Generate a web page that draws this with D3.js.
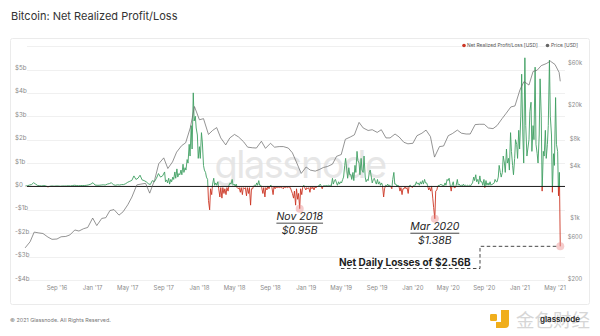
<!DOCTYPE html>
<html>
<head>
<meta charset="utf-8">
<script src="https://cdn.jsdelivr.net/npm/d3@7"></script>
<style>
  body { margin: 0; background: #fff; }
  svg { display: block; font-family: Inter, "Noto Sans", sans-serif; }
</style>
</head>
<body>
<svg id="chart" width="600" height="336"></svg>
<script>
// Net realized profit/loss, $ billions, Monday readings by year
const pnl2016 = [ // from 16 May 2016
  0.02, 0.03, 0.06,
  0.08, 0.16, 0.10, 0.04,
  0.03, 0.02, 0.04, 0.02,
  -0.02, 0.01, 0.02, 0.01, 0.02,
  0.02, 0.01, 0.02, 0.02,
  0.02, 0.03, 0.02, 0.04, 0.05,
  0.04, 0.03, 0.04, 0.04,
  0.04, 0.05, 0.07, 0.10
];
const pnl2017 = [ // from 2 Jan 2017
  0.16, 0.06, 0.05, 0.05, 0.06,
  0.07, 0.06, 0.10, 0.12,
  0.16, 0.07, 0.05, 0.07,
  0.06, 0.08, 0.08, 0.12,
  0.18, 0.22, 0.26, 0.45, 0.30,
  0.35, 0.48, 0.28, 0.25,
  0.20, 0.12, 0.08, 0.25, 0.20,
  0.35, 0.55, 0.40, 0.45,
  0.62, 0.28, 0.35, 0.30,
  0.40, 0.62, 0.75, 0.55, 0.70,
  0.95, 0.80, 1.15, 1.80,
  2.60, 4.00, 3.00, 2.20
];
const pnl2018 = [ // from 1 Jan 2018
  1.70, 2.30, 0.90, 0.60, 0.30,
  -1.00, -0.35, 0.35, 0.15,
  0.20, -0.45, -0.50, -0.30,
  -0.35, -0.20, 0.15, 0.30, 0.10,
  0.10, -0.10, -0.25, -0.35,
  -0.10, -0.40, -0.30, -0.80,
  -0.10, 0.05, 0.15, 0.25, 0.05,
  -0.30, -0.45, -0.15, -0.10,
  0.05, -0.35, -0.10, -0.05,
  -0.05, -0.05, -0.10, -0.05, -0.05,
  -0.05, -0.20, -0.50, -0.80,
  -0.55, -0.95, -0.35, 0.05, -0.15
];
const pnl2019 = [ // from 7 Jan 2019
  -0.10, -0.25, -0.10, -0.15,
  -0.05, 0.02, 0.10, -0.10,
  0.03, 0.04, 0.05, 0.05,
  0.35, 0.25, 0.15, 0.20, 0.20,
  0.30, 0.90, 0.70, 0.80,
  0.50, 0.60, 0.90, 1.50,
  1.00, 1.20, 0.60, 0.40, 0.30,
  0.60, 0.40, 0.30, 0.20,
  0.30, 0.20, 0.15, -0.45, 0.05,
  0.10, 0.05, -0.10, 0.60,
  0.10, 0.05, -0.20, -0.35,
  -0.10, -0.10, -0.30, 0.05, -0.05
];
const pnl2020 = [ // from 6 Jan 2020
  0.05, 0.20, 0.15, 0.20,
  0.25, 0.30, 0.15, -0.15,
  -0.20, -0.50, -1.38, -0.15, 0.05,
  0.10, 0.05, 0.15, 0.30,
  0.35, -0.20, 0.20, -0.05,
  0.30, 0.10, 0.05, 0.10, 0.05,
  0.05, 0.05, 0.10, 0.40,
  0.50, 0.30, 0.45, 0.20, 0.30,
  0.25, 0.15, 0.20, 0.10,
  0.15, 0.20, 0.40, 0.60,
  0.60, 1.00, 1.60, 1.20, 2.30,
  0.90, 1.20, 1.80, 2.40
];
const pnl2021 = [ // from 4 Jan 2021
  3.00, 2.20, 5.50, 1.30,
  2.00, 3.60, 2.60, 5.10,
  1.40, 2.20, 3.00, 1.50, 2.40,
  1.80, 5.40, 2.20, 1.40,
  3.80, 1.50
];

// Thursday readings, $ billions
const mid2017 = [ // from 7 Sep 2017
  0.20, 0.15, 0.10, 0.20,
  0.30, 0.35, 0.40, 0.50,
  0.50, 0.60, 0.70, 1.00, 1.30,
  1.60, 2.80, 2.50, 1.20
];
const mid2018 = [ // from 4 Jan 2018
  1.20, 1.90, 0.70, 0.40,
  -0.60, -0.10, 0.10, 0.05,
  0.05, -0.10, -0.05, -0.05, -0.10,
  -0.05, 0.05, 0.10, 0.05,
  0.02, -0.05, -0.05, -0.05, -0.05,
  -0.05, -0.05, -0.05, -0.10,
  0.02, 0.02, 0.05, 0.05,
  -0.05, -0.05, -0.05, 0.02, 0.02,
  -0.05, -0.02, -0.02, -0.02,
  -0.02, -0.05, -0.02, -0.02,
  -0.02, -0.05, -0.30, -0.20, -0.10,
  -0.30, -0.10, -0.05, -0.05
];
const mid2019 = [ // from 3 Jan 2019
  -0.05, -0.05, -0.03, -0.03, -0.03,
  -0.02, 0.02, 0.03, 0.02,
  0.02, 0.02, 0.03, 0.02,
  0.10, 0.30, 0.05, 0.10,
  0.15, 0.40, 1.20, 0.35, 0.50,
  0.30, 0.25, 0.60, 1.10,
  0.50, 0.70, 1.30, 0.20,
  0.25, 0.70, 0.15, 0.35, 0.10,
  0.10, 0.05, 0.05, -0.10,
  0.02, 0.02, 0.02, 0.30, 0.10,
  0.02, 0.02, -0.05, -0.10,
  -0.02, -0.05, 0.02, 0.02
];
const mid2020 = [ // from 2 Jan 2020
  0.02, 0.05, 0.10, 0.05, 0.10,
  0.10, 0.15, 0.05, -0.05,
  0.02, -0.90, -0.20, 0.02,
  0.05, 0.05, 0.02, 0.05, 0.25,
  0.10, 0.05, -0.05, 0.05,
  0.05, 0.02, 0.02, 0.02,
  0.02, 0.02, 0.02, 0.15, 0.25,
  0.20, 0.10, 0.20, 0.05,
  -0.05, 0.05, 0.05, 0.05,
  0.10, 0.30, 0.20, 0.90, 0.40,
  1.30, 0.60, 1.00, 0.70,
  1.50, 0.50, 2.00, 1.20, 1.60
];
const mid2021 = [ // from 7 Jan 2021
  4.80, 1.00, 2.60, 1.60,
  3.20, 1.50, 2.00, 1.80,
  1.00, 4.60, -0.20, 1.30,
  1.20, 2.60, 3.00, -0.25, 0.90,
  1.80
];
const pnlTailDates = ["2021-05-13", "2021-05-16", "2021-05-19"];
const pnlTailValues = [-0.40, 0.60, -2.56];

// BTC price, USD, on the 1st and 15th of each month
const price2016 = [455, 535, 690, 675, 665, 605, 570, 575, 610, 615, 640, 730, 710, 755, 780]; // from 15 May
const price2017 = [1000, 820, 990, 1010, 1220, 1250, 1080, 1180, 1420, 1740, 2400, 2450,
                   2500, 1930, 2750, 4200, 4900, 3700, 4400, 5700, 6750, 7300, 10900, 19000];
const price2018 = [13400, 13800, 9100, 10100, 10900, 8300, 6900, 8300, 9100, 8500, 7500, 6500,
                   6400, 6350, 7600, 6300, 7200, 6500, 6600, 6600, 6350, 5600, 4200, 3250];
const price2019 = [3850, 3550, 3450, 3600, 3800, 3900, 4150, 5100, 5350, 8000, 8500, 9000,
                   12500, 10800, 10100, 10300, 9600, 10300, 8300, 8300, 9200, 8500, 7400, 7100];
const price2020 = [7200, 8800, 9400, 10200, 8600, 5000, 6600, 6700, 8800, 9300, 10200, 9400,
                   9200, 9200, 11800, 11900, 11900, 10800, 10600, 11500, 13800, 15900, 18800, 19300];
const price2021 = [29400, 36800, 33500, 48000, 49600, 56000, 59000, 63000, 57700, 46800];
const priceTailDates = ["2021-05-19"];
const priceTailValues = [37000];

// Axes
const leftTicks = [-4, -3, -2, -1, 0, 1, 2, 3, 4, 5];
const rightTicks = [200, 600, 1000, 4000, 8000, 20000, 60000];
const rightTickLabels = ["$200", "$600", "$1k", "$4k", "$8k", "$20k", "$60k"];

// Callouts
const calloutDates = ["2018-12-10", "2020-03-16"];
const calloutValues = [-0.95, -1.38];
const calloutTitles = ["Nov 2018", "Mar 2020"];
const calloutAmounts = ["$0.95B", "$1.38B"];
const headlineDate = "2021-05-19";
const headlineValue = -2.56;
const headlineText = "Net Daily Losses of $2.56B";

const legendNames = ["Net Realized Profit/Loss [USD]", "Price [USD]"];

// ---------- build series ----------
const parse = d3.utcParse("%Y-%m-%d");
function weekly(startStr, values) {
  const s = parse(startStr);
  return values.map((v, i) => ({ date: d3.utcDay.offset(s, 7 * i), value: v }));
}
function semiMonthly(year, month, half, values) {
  return values.map((v, i) => {
    const k = half + i;
    return { date: new Date(Date.UTC(year, month + Math.floor(k / 2), k % 2 ? 15 : 1)), value: v };
  });
}
const pnl = [].concat(
  weekly("2016-05-16", pnl2016),
  weekly("2017-01-02", pnl2017),
  weekly("2018-01-01", pnl2018),
  weekly("2019-01-07", pnl2019),
  weekly("2020-01-06", pnl2020),
  weekly("2021-01-04", pnl2021),
  weekly("2017-09-07", mid2017),
  weekly("2018-01-04", mid2018),
  weekly("2019-01-03", mid2019),
  weekly("2020-01-02", mid2020),
  weekly("2021-01-07", mid2021),
  pnlTailDates.map((d, i) => ({ date: parse(d), value: pnlTailValues[i] }))
).sort((a, b) => a.date - b.date);
const price = [].concat(
  semiMonthly(2016, 4, 1, price2016),
  semiMonthly(2017, 0, 0, price2017),
  semiMonthly(2018, 0, 0, price2018),
  semiMonthly(2019, 0, 0, price2019),
  semiMonthly(2020, 0, 0, price2020),
  semiMonthly(2021, 0, 0, price2021),
  priceTailDates.map((d, i) => ({ date: parse(d), value: priceTailValues[i] }))
);

// ---------- layout ----------
const svg = d3.select("#chart");
const plotL = 27, plotR = 565, plotT = 46;
const GREEN = "#3f9f62", RED = "#cc3524";

const x = d3.scaleUtc()
  .domain([new Date(Date.UTC(2016, 8, 1)), new Date(Date.UTC(2021, 4, 1))])
  .range([57, 555]);
const yL = d3.scaleLinear().domain([-4, 5]).range([280, 69.5]);
const yR = d3.scaleLog().domain([200, 60000]).range([279, 63]);

// card frame + title
svg.append("rect").attr("x", 10.5).attr("y", 38.5).attr("width", 579).attr("height", 266)
  .attr("fill", "none").attr("stroke", "#ebebeb").attr("rx", 2);
svg.append("text").attr("x", 11).attr("y", 20).attr("font-size", 11).attr("fill", "#333")
  .text("Bitcoin: Net Realized Profit/Loss");

// grid
svg.append("line").attr("x1", plotL).attr("x2", plotR).attr("y1", plotT + 0.5).attr("y2", plotT + 0.5)
  .attr("stroke", "#f0f0f0");
svg.append("g").selectAll("line").data(leftTicks.filter(d => d !== 0)).join("line")
  .attr("x1", plotL).attr("x2", plotR)
  .attr("y1", d => Math.round(yL(d)) + 0.5).attr("y2", d => Math.round(yL(d)) + 0.5)
  .attr("stroke", "#f0f0f0");

// left axis labels
svg.append("g").selectAll("text").data(leftTicks).join("text")
  .attr("x", 15).attr("y", d => yL(d) + 0.5)
  .attr("font-size", 6.2).attr("fill", "#8a8a8a")
  .text(d => d === 0 ? "$0" : (d < 0 ? "-" : "") + "$" + Math.abs(d) + "b");

// right axis labels
svg.append("g").selectAll("text").data(rightTicks).join("text")
  .attr("x", 575).attr("y", d => yR(d) + 2).attr("text-anchor", "middle")
  .attr("font-size", 5.8).attr("fill", "#8a8a8a")
  .text((d, i) => rightTickLabels[i]);

// bottom axis
const xTicks = d3.utcMonth.every(4).range(new Date(Date.UTC(2016, 8, 1)), new Date(Date.UTC(2021, 5, 1)));
svg.append("g").selectAll("text").data(xTicks).join("text")
  .attr("x", d => x(d)).attr("y", 290).attr("text-anchor", "middle")
  .attr("font-size", 6).attr("fill", "#8a8a8a")
  .text(d => d3.utcFormat("%b '%y")(d));

// brand mark behind the data
svg.append("text").attr("x", 300).attr("y", 178).attr("text-anchor", "middle")
  .attr("font-size", 38).attr("font-weight", 400).attr("fill", "#e2e2e2").attr("fill-opacity", 0.85)
  .attr("letter-spacing", -1.5)
  .text("glassnode");

// profit/loss line, split at zero
const y0 = yL(0);
const defs = svg.append("defs");
defs.append("clipPath").attr("id", "above").append("rect")
  .attr("x", 0).attr("y", 0).attr("width", 600).attr("height", y0);
defs.append("clipPath").attr("id", "below").append("rect")
  .attr("x", 0).attr("y", y0).attr("width", 600).attr("height", 336 - y0);
const pnlLine = d3.line().x(d => x(d.date)).y(d => yL(d.value));
svg.append("path").datum(pnl).attr("d", pnlLine).attr("clip-path", "url(#above)")
  .attr("fill", "none").attr("stroke", GREEN).attr("stroke-width", 0.9);
svg.append("path").datum(pnl).attr("d", pnlLine).attr("clip-path", "url(#below)")
  .attr("fill", "none").attr("stroke", RED).attr("stroke-width", 0.9);

// zero line
svg.append("line").attr("x1", plotL).attr("x2", plotR).attr("y1", y0).attr("y2", y0)
  .attr("stroke", "#1a1a1a").attr("stroke-width", 1);

// price line
svg.append("path").datum(price)
  .attr("d", d3.line().x(d => x(d.date)).y(d => yR(d.value)))
  .attr("fill", "none").attr("stroke", "#666").attr("stroke-width", 0.7);

// legend
const legendY = 45.5;
svg.append("circle").attr("cx", 464).attr("cy", legendY).attr("r", 1.8).attr("fill", RED);
svg.append("text").attr("x", 467).attr("y", legendY + 1.8).attr("font-size", 4.9).attr("fill", "#555")
  .text(legendNames[0]);
svg.append("circle").attr("cx", 547.5).attr("cy", legendY).attr("r", 1.8).attr("fill", "#666");
svg.append("text").attr("x", 551).attr("y", legendY + 1.8).attr("font-size", 4.9).attr("fill", "#555")
  .text(legendNames[1]);

// callouts for the large loss days
calloutDates.forEach((ds, i) => {
  const cx = x(parse(ds)), cy = yL(calloutValues[i]);
  svg.append("circle").attr("cx", cx).attr("cy", cy).attr("r", 4)
    .attr("fill", "#e98f8f").attr("fill-opacity", 0.45);
  const t1 = svg.append("text").attr("x", cx).attr("y", cy + 11.5).attr("text-anchor", "middle")
    .attr("font-size", 10.5).attr("font-style", "italic").attr("fill", "#1e1e1e")
    .text(calloutTitles[i]);
  const w = t1.node().getComputedTextLength();
  svg.append("line").attr("x1", cx - w / 2).attr("x2", cx + w / 2)
    .attr("y1", cy + 14.5).attr("y2", cy + 14.5).attr("stroke", "#1e1e1e").attr("stroke-width", 0.8);
  svg.append("text").attr("x", cx).attr("y", cy + 25).attr("text-anchor", "middle")
    .attr("font-size", 10.5).attr("font-style", "italic").attr("fill", "#1e1e1e")
    .text(calloutAmounts[i]);
});

// headline callout for the latest loss
const hx = x(parse(headlineDate)), hy = yL(headlineValue);
svg.append("circle").attr("cx", hx).attr("cy", hy).attr("r", 4)
  .attr("fill", "#e98f8f").attr("fill-opacity", 0.45);
svg.append("text").attr("x", 339).attr("y", 265.5)
  .attr("font-size", 10).attr("font-weight", 700).attr("fill", "#1e1e1e")
  .text(headlineText);
const elbowX = 480, baseY = 268.5;
svg.append("path")
  .attr("d", `M${hx - 4},${hy} H${elbowX} V${baseY} H339`)
  .attr("fill", "none").attr("stroke", "#333").attr("stroke-width", 0.9)
  .attr("stroke-dasharray", "3.5,2.5");

// footer
svg.append("text").attr("x", 10).attr("y", 322).attr("font-size", 5.4).attr("fill", "#777")
  .text("© 2021 Glassnode. All Rights Reserved.");

// publisher mark, bottom right
const pm = svg.append("g");
pm.append("rect").attr("x", 490).attr("y", 314).attr("width", 7).attr("height", 7).attr("rx", 1.2).attr("fill", "#f0ae1c");
pm.append("path").attr("d", "M501,310 h8 v14 a4,4 0 0 1 -4,4 h-9 v-6 h5 z").attr("fill", "#f0ae1c");
pm.append("text").attr("x", 516).attr("y", 327).attr("font-size", 18.5)
  .attr("font-family", "'Noto Sans CJK SC', sans-serif").attr("fill", "#d6d6d6")
  .text("金色财经");
pm.append("text").attr("x", 560).attr("y", 321.5).attr("text-anchor", "middle")
  .attr("font-size", 8).attr("font-weight", 600).attr("fill", "#222")
  .text("glassnode");
</script>
</body>
</html>
